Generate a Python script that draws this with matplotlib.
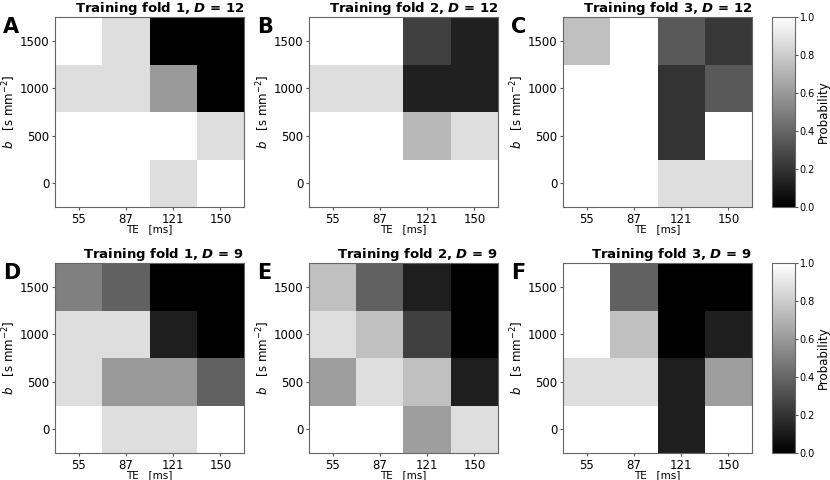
import matplotlib
matplotlib.use("Agg")
import matplotlib.pyplot as plt
import numpy as np

te_labels = ["55", "87", "121", "150"]
b_values = [0, 500, 1000, 1500]

# rows are b = 0, 500, 1000, 1500 (bottom to top)
prob_a = [[1.00, 1.00, 0.87, 1.00],
          [1.00, 1.00, 1.00, 0.87],
          [0.87, 0.87, 0.60, 0.00],
          [1.00, 0.87, 0.00, 0.00]]
prob_b = [[1.00, 1.00, 1.00, 1.00],
          [1.00, 1.00, 0.72, 0.87],
          [0.87, 0.87, 0.13, 0.13],
          [1.00, 1.00, 0.25, 0.13]]
prob_c = [[1.00, 1.00, 0.87, 0.87],
          [1.00, 1.00, 0.20, 1.00],
          [1.00, 1.00, 0.20, 0.35],
          [0.75, 1.00, 0.35, 0.22]]
prob_d = [[1.00, 0.87, 0.87, 1.00],
          [0.87, 0.60, 0.60, 0.38],
          [0.87, 0.87, 0.12, 0.00],
          [0.50, 0.38, 0.00, 0.00]]
prob_e = [[1.00, 1.00, 0.62, 0.87],
          [0.62, 0.87, 0.75, 0.12],
          [0.87, 0.75, 0.25, 0.00],
          [0.75, 0.38, 0.12, 0.00]]
prob_f = [[1.00, 1.00, 0.12, 1.00],
          [0.87, 0.87, 0.12, 0.62],
          [1.00, 0.75, 0.00, 0.12],
          [1.00, 0.38, 0.00, 0.00]]

panels = [("A", 1, 12, prob_a), ("B", 2, 12, prob_b), ("C", 3, 12, prob_c),
          ("D", 1, 9, prob_d), ("E", 2, 9, prob_e), ("F", 3, 9, prob_f)]

W, H = 830, 480
fig = plt.figure(figsize=(8.3, 4.8), dpi=100)

lefts = [55, 309, 563]
tops = [17, 263]
aw, ah = 189, 190

for i, (letter, fold, D, prob) in enumerate(panels):
    r, c = divmod(i, 3)
    ax = fig.add_axes([lefts[c] / W, 1 - (tops[r] + ah) / H, aw / W, ah / H])
    im = ax.imshow(np.array(prob), cmap="gray", vmin=0, vmax=1, origin="lower",
                   extent=[-0.5, 3.5, -250, 1750], aspect="auto",
                   interpolation="nearest")
    ax.set_xticks(range(4))
    ax.set_xticklabels(te_labels)
    ax.set_yticks(b_values)
    ax.tick_params(labelsize=8.5, length=2.5, pad=1.5, color="#555555")
    for s in ax.spines.values():
        s.set_color("#666666")
    ax.set_xlabel("TE   [ms]", fontsize=7.5, labelpad=-1)
    ax.set_ylabel(r"$b$   [s mm$^{-2}$]", fontsize=8.5, labelpad=1)
    ax.set_title(r"Training fold %d, $\mathbfit{D}$ = %d" % (fold, D),
                 fontsize=9.5, fontweight="bold", loc="right", pad=2)
    fig.text((lefts[c] - 52) / W, 1 - (tops[r] + 10) / H, letter,
             fontsize=15, fontweight="bold", va="center", ha="left")

    if c == 2:
        cax = fig.add_axes([772 / W, 1 - (tops[r] + ah) / H, 23 / W, ah / H])
        cb = fig.colorbar(im, cax=cax)
        cb.set_ticks([0, 0.2, 0.4, 0.6, 0.8, 1.0])
        cb.ax.tick_params(labelsize=7, length=2.5, pad=1, color="#555555")
        cb.outline.set_edgecolor("#666666")
        cb.set_label("Probability", fontsize=8.5, labelpad=1)

fig.savefig("out.png", dpi=100)
